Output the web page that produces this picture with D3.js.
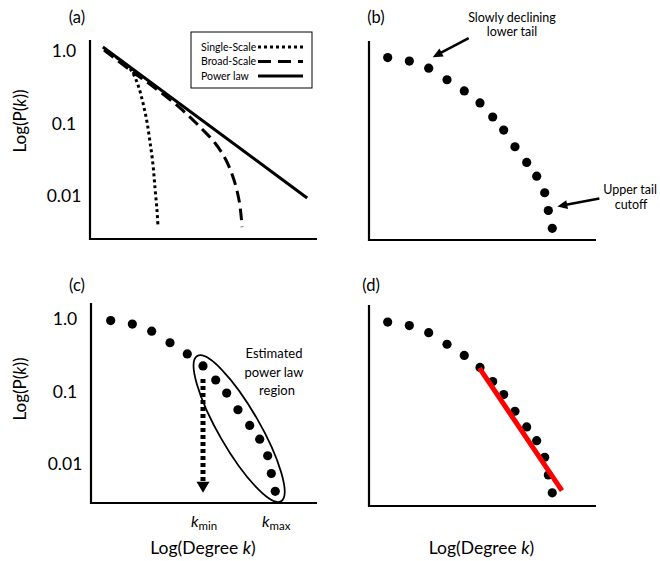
<!DOCTYPE html>
<html>
<head>
<meta charset="utf-8">
<script src="https://cdn.jsdelivr.net/npm/d3@7"></script>
<style>
  body { margin: 0; background: #fff; }
  svg { display: block; font-family: Lato, "Open Sans", sans-serif; }
</style>
</head>
<body>
<svg id="chart" width="660" height="561"></svg>
<script>
// Schematic degree distributions drawn on log-log axes.

// y-axis ticks (probability, log scale)
const tickValues = [1, 0.1, 0.01];
const tickLabels = ["1.0", "0.1", "0.01"];

// (a) model curves: x = log10(k), y = P(k)
const powerLawLogK = [0.17, 2.87];
const powerLawP = [1.135, 0.0094];
const broadScaleLogK = [0.185, 0.529, 0.859, 1.189, 1.454, 1.652, 1.797, 1.903, 1.969, 1.996, 2.009];
const broadScaleP = [1.03, 0.547, 0.309, 0.164, 0.0895, 0.0538, 0.0314, 0.0166, 0.00881, 0.00547, 0.00373];
const singleScaleLogK = [0.211, 0.396, 0.542, 0.634, 0.700, 0.753, 0.793, 0.833, 0.859, 0.885, 0.899];
const singleScaleP = [1.0, 0.751, 0.547, 0.340, 0.192, 0.105, 0.0556, 0.0268, 0.0129, 0.00641, 0.00373];

// (b)-(d) observed degree distribution
const degreeLogK = [0.247, 0.533, 0.789, 1.031, 1.259, 1.467, 1.635, 1.780, 1.929, 2.084, 2.216, 2.322, 2.370, 2.422];
const degreeP = [0.95, 0.85, 0.68, 0.47, 0.33, 0.225, 0.144, 0.095, 0.056, 0.034, 0.022, 0.013, 0.0074, 0.0042];

// (c) bounds of the power-law region (indices into the degree data)
const kMinIndex = 5;
const kMaxIndex = 13;
const kMinArrowEndP = 0.004;

// (d) fitted power law
const fitLogK = [1.46, 2.55];
const fitP = [0.22, 0.0045];

// legend entries for panel (a)
const legendLabels = ["Single-Scale", "Broad-Scale", "Power law"];
const legendDash = ["3,3", "13,7", null];

const svg = d3.select("#chart");
const AXIS_W = 227, DECADES_PX = 145;

// panel frames: axis extents and the pixel row of P = 1.0
const frames = {
  a: { left: 90, top: 40, right: 317, bottom: 239, ref: 51, x0: 90, tag: "(a)", tx: 77, ty: 23 },
  b: { left: 369, top: 41, right: 596, bottom: 240, ref: 56, x0: 369, tag: "(b)", tx: 376, ty: 23 },
  c: { left: 91, top: 303, right: 317, bottom: 503, ref: 319, x0: 92, tag: "(c)", tx: 77, ty: 291 },
  d: { left: 369, top: 305, right: 596, bottom: 506, ref: 320.5, x0: 369, tag: "(d)", tx: 371, ty: 291 }
};

function scalesFor(f) {
  return {
    x: d3.scaleLinear().domain([0, 3]).range([f.x0, f.x0 + AXIS_W]),
    y: d3.scaleLog().domain([1, 0.01]).range([f.ref, f.ref + DECADES_PX])
  };
}

function drawFrame(f) {
  svg.append("path")
    .attr("d", `M${f.left},${f.top}V${f.bottom}H${f.right}`)
    .attr("fill", "none").attr("stroke", "#000").attr("stroke-width", 2.2);
  svg.append("text").attr("x", f.tx).attr("y", f.ty)
    .attr("text-anchor", "middle").attr("font-size", 16.5).text(f.tag);
}

function drawYTicks(f, s) {
  const g = svg.append("g").attr("transform", `translate(${f.left},0)`)
    .call(d3.axisLeft(s.y).tickValues(tickValues)
      .tickFormat((d, i) => tickLabels[i]).tickSize(0));
  g.select(".domain").remove();
  g.selectAll("text").attr("x", -26).attr("text-anchor", "middle")
    .attr("font-family", "Lato, sans-serif").attr("font-size", 17.5).attr("fill", "#000");
}

function drawYTitle(f) {
  const cy = f.ref + 70;
  const t = svg.append("text").attr("transform", `translate(26,${cy}) rotate(-90)`)
    .attr("text-anchor", "middle").attr("font-size", 17);
  t.append("tspan").text("Log(P(");
  t.append("tspan").attr("font-style", "italic").text("k");
  t.append("tspan").text("))");
}

function drawXTitle(f) {
  const t = svg.append("text").attr("x", (f.left + f.right) / 2 - 1).attr("y", 554)
    .attr("text-anchor", "middle").attr("font-size", 17.5);
  t.append("tspan").text("Log(Degree ");
  t.append("tspan").attr("font-style", "italic").text("k");
  t.append("tspan").text(")");
}

function drawArrow(x1, y1, x2, y2, opts) {
  const { headLen, headW, width, dash } = opts;
  const dx = x2 - x1, dy = y2 - y1, len = Math.hypot(dx, dy);
  const ux = dx / len, uy = dy / len;
  const bx = x2 - ux * headLen, by = y2 - uy * headLen;
  svg.append("line").attr("x1", x1).attr("y1", y1)
    .attr("x2", bx + ux * 1).attr("y2", by + uy * 1)
    .attr("stroke", "#000").attr("stroke-width", width)
    .attr("stroke-dasharray", dash || null);
  svg.append("path")
    .attr("d", `M${x2},${y2}L${bx - uy * headW / 2},${by + ux * headW / 2}L${bx + uy * headW / 2},${by - ux * headW / 2}Z`)
    .attr("fill", "#000");
}

const degreeData = degreeLogK.map((lk, i) => ({ lk, p: degreeP[i] }));

function drawDots(s) {
  svg.append("g").selectAll("circle").data(degreeData).join("circle")
    .attr("cx", d => s.x(d.lk)).attr("cy", d => s.y(d.p)).attr("r", 4.6).attr("fill", "#000");
}

// ---------- (a) ----------
{
  const f = frames.a, s = scalesFor(f);
  drawFrame(f);
  drawYTicks(f, s);
  drawYTitle(f);
  const line = d3.line().x(d => s.x(d[0])).y(d => s.y(d[1]));
  const smooth = d3.line().x(d => s.x(d[0])).y(d => s.y(d[1])).curve(d3.curveCatmullRom);
  svg.append("path").attr("d", smooth(d3.zip(singleScaleLogK, singleScaleP)))
    .attr("fill", "none").attr("stroke", "#000").attr("stroke-width", 3).attr("stroke-dasharray", "3,3");
  svg.append("path").attr("d", smooth(d3.zip(broadScaleLogK, broadScaleP)))
    .attr("fill", "none").attr("stroke", "#000").attr("stroke-width", 3).attr("stroke-dasharray", "12,6");
  svg.append("path").attr("d", line(d3.zip(powerLawLogK, powerLawP)))
    .attr("fill", "none").attr("stroke", "#000").attr("stroke-width", 3);

  // legend
  const lg = svg.append("g").attr("transform", "translate(191,32)");
  lg.append("rect").attr("width", 121).attr("height", 56)
    .attr("fill", "#fff").attr("stroke", "#000").attr("stroke-width", 1);
  legendLabels.forEach((lab, i) => {
    const yy = 15 + i * 14.5;
    lg.append("text").attr("x", 10).attr("y", yy).attr("dy", "0.35em")
      .attr("font-size", 10.5).text(lab);
    lg.append("line").attr("x1", 67).attr("x2", 112).attr("y1", yy).attr("y2", yy)
      .attr("stroke", "#000").attr("stroke-width", 3)
      .attr("stroke-dasharray", legendDash[i]);
  });
}

// ---------- (b) ----------
{
  const f = frames.b, s = scalesFor(f);
  drawFrame(f);
  drawDots(s);
  const t1 = svg.append("text").attr("text-anchor", "middle").attr("font-size", 12.5);
  t1.append("tspan").attr("x", 512).attr("y", 22).text("Slowly declining");
  t1.append("tspan").attr("x", 512).attr("y", 36).text("lower tail");
  const p3 = degreeData[2];
  const tipA = [s.x(p3.lk) + 4, s.y(p3.p) - 11];
  drawArrow(tipA[0] + 36, tipA[1] - 19, tipA[0], tipA[1], { headLen: 10, headW: 9, width: 2.5 });

  const t2 = svg.append("text").attr("text-anchor", "middle").attr("font-size", 12.5);
  t2.append("tspan").attr("x", 630).attr("y", 194).text("Upper tail");
  t2.append("tspan").attr("x", 631).attr("y", 209).text("cutoff");
  const p13 = degreeData[12];
  const tipB = [s.x(p13.lk) + 9, s.y(p13.p) - 4];
  drawArrow(tipB[0] + 42, tipB[1] - 8, tipB[0], tipB[1], { headLen: 10, headW: 9, width: 2.5 });
}

// ---------- (c) ----------
{
  const f = frames.c, s = scalesFor(f);
  drawFrame(f);
  drawYTicks(f, s);
  drawYTitle(f);
  drawXTitle(f);
  drawDots(s);

  // ellipse around the power-law region
  const a = degreeData[kMinIndex], b = degreeData[kMaxIndex];
  const ax = s.x(a.lk), ay = s.y(a.p), bx = s.x(b.lk), by = s.y(b.p);
  const cx = (ax + bx) / 2, cy = (ay + by) / 2;
  const ang = Math.atan2(by - ay, bx - ax) * 180 / Math.PI;
  const rx = Math.hypot(bx - ax, by - ay) / 2 + 11.5;
  svg.append("ellipse").attr("transform", `translate(${cx},${cy}) rotate(${ang})`)
    .attr("rx", rx).attr("ry", 20.5)
    .attr("fill", "none").attr("stroke", "#000").attr("stroke-width", 1.8);

  // k_min drop line
  drawArrow(ax, ay + 13, ax, s.y(kMinArrowEndP), { headLen: 11, headW: 13, width: 5, dash: "4,3" });

  const est = svg.append("text").attr("text-anchor", "middle").attr("font-size", 13);
  est.append("tspan").attr("x", 274).attr("y", 358).text("Estimated");
  est.append("tspan").attr("x", 274).attr("y", 376.5).text("power law");
  est.append("tspan").attr("x", 277).attr("y", 395).text("region");

  [[a, "min"], [b, "max"]].forEach(([d, sub]) => {
    const t = svg.append("text").attr("x", s.x(d.lk) + 1).attr("y", 527)
      .attr("text-anchor", "middle").attr("font-size", 16);
    t.append("tspan").attr("font-style", "italic").text("k");
    t.append("tspan").attr("font-size", 11.5).attr("dy", 3).text(sub);
  });
}

// ---------- (d) ----------
{
  const f = frames.d, s = scalesFor(f);
  drawFrame(f);
  drawXTitle(f);
  drawDots(s);
  const line = d3.line().x(d => s.x(d[0])).y(d => s.y(d[1]));
  svg.append("path").attr("d", line(d3.zip(fitLogK, fitP)))
    .attr("fill", "none").attr("stroke", "#ff0000").attr("stroke-width", 5);
}
</script>
</body>
</html>
